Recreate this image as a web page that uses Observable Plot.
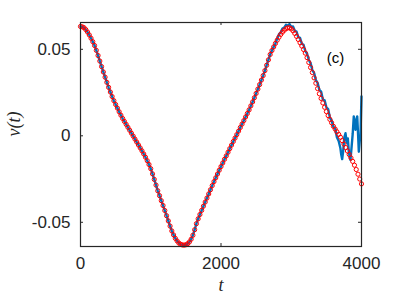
<!DOCTYPE html>
<html>
<head>
<meta charset="utf-8">
<script src="https://cdn.jsdelivr.net/npm/d3@7"></script>
<script src="https://cdn.jsdelivr.net/npm/@observablehq/plot@0.6"></script>
<style>
  html, body { margin: 0; padding: 0; background: #fff; }
  #chart { width: 399px; height: 299px; }
</style>
</head>
<body>
<div id="chart"></div>
<script>
// ---- data ----
const tStep = 25; // sampling step of the red markers (t = 0 .. 4000)
const vRed = [
  0.0632, 0.0630, 0.0625, 0.0614, 0.0600, 0.0583, 0.0564, 0.0544, 0.0522, 0.0494,
  0.0464, 0.0432, 0.0400, 0.0369, 0.0339, 0.0309, 0.0280, 0.0253, 0.0227, 0.0203,
  0.0181, 0.0160, 0.0139, 0.0119, 0.0100, 0.0083, 0.0066, 0.0049, 0.0032, 0.0015,
  -0.0002, -0.0019, -0.0036, -0.0053, -0.0070, -0.0087, -0.0105, -0.0124, -0.0144, -0.0166,
  -0.0190, -0.0220, -0.0252, -0.0285, -0.0318, -0.0346, -0.0375, -0.0403, -0.0432, -0.0462,
  -0.0492, -0.0522, -0.0550, -0.0573, -0.0593, -0.0608, -0.0620, -0.0627, -0.0631, -0.0632,
  -0.0630, -0.0624, -0.0614, -0.0598, -0.0575, -0.0543, -0.0508, -0.0480, -0.0455, -0.0431,
  -0.0407, -0.0383, -0.0360, -0.0336, -0.0312, -0.0288, -0.0265, -0.0243, -0.0221, -0.0199,
  -0.0178, -0.0157, -0.0136, -0.0116, -0.0095, -0.0074, -0.0054, -0.0033, -0.0013, 0.0007,
  0.0027, 0.0048, 0.0068, 0.0088, 0.0109, 0.0129, 0.0150, 0.0173, 0.0196, 0.0220,
  0.0245, 0.0270, 0.0296, 0.0322, 0.0348, 0.0377, 0.0408, 0.0439, 0.0470, 0.0493,
  0.0514, 0.0534, 0.0553, 0.0570, 0.0586, 0.0599, 0.0610, 0.0619, 0.0624, 0.0624,
  0.0618, 0.0607, 0.0592, 0.0575, 0.0557, 0.0538, 0.0519, 0.0499, 0.0478, 0.0452,
  0.0424, 0.0395, 0.0366, 0.0335, 0.0304, 0.0273, 0.0243, 0.0216, 0.0190, 0.0165,
  0.0140, 0.0117, 0.0095, 0.0075, 0.0055, 0.0039, 0.0023, 0.0008, -0.0008, -0.0028,
  -0.0048, -0.0068, -0.0088, -0.0108, -0.0128, -0.0148, -0.0170, -0.0195, -0.0222, -0.0250,
  -0.0278
];
const tRed = vRed.map((_, i) => i * tStep);

// blue curve: identical to the red one up to t = 2775, then its own (noisy) tail
const blueSplitT = 2800;
const tBlueTail = [2800, 2825, 2850, 2875, 2900, 2925, 2950, 2975, 3000, 3025,
  3050, 3075, 3100, 3125, 3150, 3175, 3200, 3225, 3250, 3275,
  3300, 3325, 3350, 3375, 3400, 3425, 3450, 3475, 3500, 3525,
  3550, 3575, 3600, 3625, 3650, 3675, 3700, 3712, 3725, 3740, 3755,
  3772, 3790, 3805, 3819, 3831, 3843, 3860, 3875, 3890, 3903, 3915,
  3928, 3939, 3950, 3962, 3975, 3986, 3993, 4000];
const vBlueTail = [0.0562, 0.0587, 0.0598, 0.0620, 0.0625, 0.0642, 0.0637, 0.0646, 0.0630, 0.0632,
  0.0607, 0.0602, 0.0570, 0.0566, 0.0532, 0.0526, 0.0490, 0.0476, 0.0438, 0.0420,
  0.0380, 0.0364, 0.0322, 0.0306, 0.0266, 0.0256, 0.0210, 0.0205, 0.0165, 0.0155,
  0.0105, 0.0088, 0.0052, 0.0042, -0.0008, -0.0030, -0.0072, -0.0110, -0.0135, -0.0085, -0.0010,
  0.0015, -0.0040, -0.0015, -0.0090, -0.0120, -0.0140, -0.0060, 0.0012, 0.0112, 0.0062, 0.0035,
  0.0095, 0.0112, 0.0020, -0.0092, -0.0030, 0.0000, 0.0120, 0.0228];

const xTicks = [0, 2000, 4000];
const xTickLabels = ["0", "2000", "4000"];
const yTicks = [-0.05, 0, 0.05];
const yTickLabels = ["-0.05", "0", "0.05"];
const xDomain = [0, 4000];
const yDomain = [-0.064, 0.0655];
const panelLabel = "(c)";
const xLabel = "t";
const yLabel = "v(t)";

// ---- build tables ----
const red = tRed.map((t, i) => ({t, v: vRed[i]}));
const blue = red.filter(d => d.t < blueSplitT)
  .concat(tBlueTail.map((t, i) => ({t, v: vBlueTail[i]})));

const W = 399, H = 299;
const mL = 80, mR = 38, mT = 22, mB = 53;
const innerW = W - mL - mR, innerH = H - mT - mB;
const tickLen = 3;
const axisColor = "#262626";
const font = "'Liberation Sans', Arial, Helvetica, sans-serif";
const serif = "'Liberation Serif', 'DejaVu Serif', serif";

const chart = Plot.plot({
  width: W,
  height: H,
  marginLeft: mL,
  marginRight: mR,
  marginTop: mT,
  marginBottom: mB,
  style: {fontFamily: font, fontSize: "17px", color: axisColor, background: "#fff", overflow: "visible"},
  x: {domain: xDomain},
  y: {domain: yDomain},
  marks: [
    Plot.axisX({ticks: xTicks, tickSize: 0, tickPadding: 10, label: null,
      tickFormat: d => xTickLabels[xTicks.indexOf(d)], fontSize: 17, fill: axisColor}),
    Plot.axisY({ticks: yTicks, tickSize: 0, tickPadding: 10, label: null,
      tickFormat: d => yTickLabels[yTicks.indexOf(d)], fontSize: 17, fill: axisColor}),
    // inward ticks on all four sides
    Plot.tickX(xTicks, {x: d => d, insetTop: innerH - tickLen, stroke: axisColor, strokeWidth: 1}),
    Plot.tickX(xTicks, {x: d => d, insetBottom: innerH - tickLen, stroke: axisColor, strokeWidth: 1}),
    Plot.tickY(yTicks, {y: d => d, insetRight: innerW - tickLen, stroke: axisColor, strokeWidth: 1}),
    Plot.tickY(yTicks, {y: d => d, insetLeft: innerW - tickLen, stroke: axisColor, strokeWidth: 1}),
    Plot.line(blue, {x: "t", y: "v", stroke: "#0072BD", strokeWidth: 2.4, strokeLinejoin: "round"}),
    Plot.dot(red, {x: "t", y: "v", r: 2.1, stroke: "#FF0000", strokeWidth: 1, fill: "none"}),
    Plot.frame({stroke: axisColor, strokeWidth: 1.2}),
    Plot.text([panelLabel], {frameAnchor: "top-right", dx: -26, dy: 30, text: d => d,
      fontSize: 15, fill: "#000", textAnchor: "middle"}),
    Plot.text([xLabel], {frameAnchor: "bottom", dy: 44, text: d => d,
      fontSize: 18, fontStyle: "italic", fontFamily: serif, fill: axisColor}),
    Plot.text([yLabel], {frameAnchor: "left", dx: -66, dy: 2, rotate: -90, text: d => d,
      fontSize: 18, fontStyle: "italic", fontFamily: serif, fill: axisColor})
  ]
});
document.getElementById("chart").appendChild(chart);
</script>
</body>
</html>
